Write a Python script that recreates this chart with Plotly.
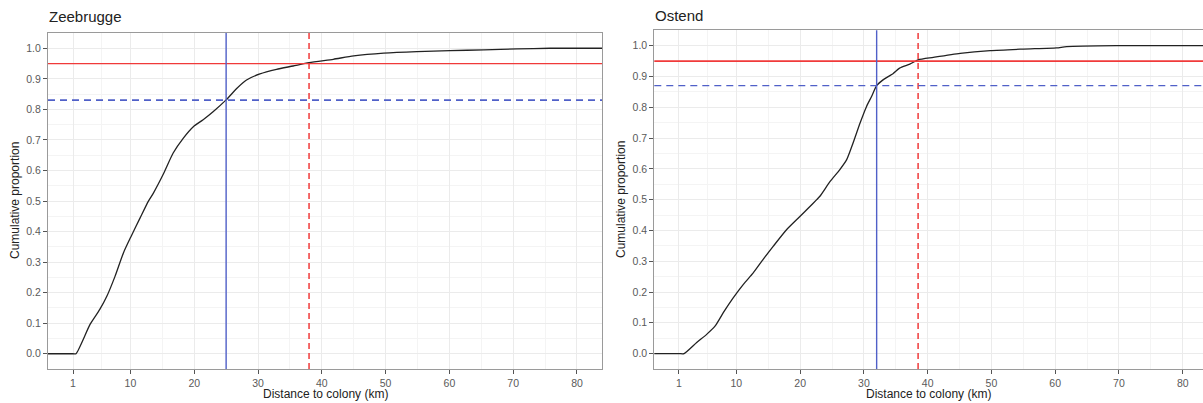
import plotly.graph_objects as go

# ---------------- data ----------------
# Zeebrugge ECDF (padded to -Inf / +Inf like stat_ecdf)
zee_x = [-10, 1.0, 1.47, 3.67, 5.2, 6.3, 7.6, 8.9, 10.1, 11.5, 12.8, 13.6, 15.2, 16.7, 18.3, 19.9,
         21.4, 23.0, 25.0, 26.7, 28.2, 30.3, 32.9, 35.5, 38.0, 41.8, 45.0, 49.7, 54.9, 60.1,
         65.4, 70.6, 75.8, 80.0, 100]
zee_y = [0, 0, 0, 0.096, 0.145, 0.188, 0.254, 0.33, 0.384, 0.444, 0.499, 0.526, 0.59, 0.657, 0.706, 0.744,
         0.766, 0.793, 0.831, 0.869, 0.896, 0.916, 0.931, 0.942, 0.953, 0.964, 0.975, 0.984, 0.989, 0.992,
         0.995, 0.998, 1.0, 1.0, 1.0]

# Ostend ECDF
ost_x = [-10, 1.0, 1.8, 3.78, 5.34, 6.65, 7.95, 9.5, 11.1, 12.65, 14.2, 15.8, 17.9, 20.0, 21.3, 22.6,
         23.1, 24.7, 26.2, 27.3, 28.3, 29.4, 30.4, 31.2, 32.0, 33.0, 34.6, 35.6, 37.2, 38.5, 40.9,
         45.1, 49.8, 55.0, 60.2, 61.8, 69.6, 80.0, 100]
ost_y = [0, 0, 0, 0.036, 0.0625, 0.089, 0.133, 0.181, 0.225, 0.262, 0.306, 0.349, 0.403, 0.446, 0.473, 0.5,
         0.511, 0.559, 0.597, 0.63, 0.684, 0.749, 0.802, 0.835, 0.87, 0.889, 0.91, 0.927, 0.94, 0.954, 0.962,
         0.975, 0.984, 0.989, 0.993, 0.997, 1.0, 1.0, 1.0]

# reference lines: 95% threshold and the marked distances / proportions
threshold = 0.95
zee_red_x = 38.0
zee_blue_x = 25.0
zee_blue_y = 0.83
ost_red_x = 38.5
ost_blue_x = 32.0
ost_blue_y = 0.87

x_ticks = [1, 10, 20, 30, 40, 50, 60, 70, 80]
x_minor = [5.5, 15, 25, 35, 45, 55, 65, 75]
y_ticks = [round(i * 0.1, 1) for i in range(11)]
y_minor = [round(-0.05 + i * 0.1, 2) for i in range(12)]

RED = "#f03a3a"
BLUE = "#5060c8"
FONT = "Liberation Sans, Arial, sans-serif"

fig = go.Figure()
fig.add_trace(go.Scatter(x=zee_x, y=zee_y, mode="lines",
                         line=dict(color="#222222", width=1.3, shape="spline", smoothing=0.6),
                         xaxis="x", yaxis="y", showlegend=False, hoverinfo="skip"))
fig.add_trace(go.Scatter(x=ost_x, y=ost_y, mode="lines",
                         line=dict(color="#222222", width=1.3, shape="spline", smoothing=0.6),
                         xaxis="x2", yaxis="y2", showlegend=False, hoverinfo="skip"))

def ref_lines(xa, ya, red_x, blue_x, blue_y, blue_w, red_w):
    xr = f"{xa} domain"
    yr = f"{ya} domain"
    fig.add_shape(type="line", xref=xr, yref=ya, x0=0, x1=1, y0=threshold, y1=threshold,
                  line=dict(color=RED, width=red_w), layer="above")
    fig.add_shape(type="line", xref=xa, yref=yr, x0=red_x, x1=red_x, y0=0, y1=1,
                  line=dict(color=RED, width=1.5, dash="6px,4px"), layer="above")
    fig.add_shape(type="line", xref=xa, yref=yr, x0=blue_x, x1=blue_x, y0=0, y1=1,
                  line=dict(color=BLUE, width=1.4), layer="above")
    fig.add_shape(type="line", xref=xr, yref=ya, x0=0, x1=1, y0=blue_y, y1=blue_y,
                  line=dict(color=BLUE, width=blue_w, dash="7px,5px"), layer="above")

ref_lines("x", "y", zee_red_x, zee_blue_x, zee_blue_y, 1.7, 1.3)
ref_lines("x2", "y2", ost_red_x, ost_blue_x, ost_blue_y, 1.3, 1.7)

W, H = 1203, 403

def xaxis(dom, rng, anchor):
    return dict(domain=dom, range=rng, anchor=anchor, tickmode="array", tickvals=x_ticks,
                ticks="outside", ticklen=4, tickcolor="#555555", tickwidth=1,
                tickfont=dict(size=10.5, color="#5a5a5a", family=FONT),
                showgrid=True, gridcolor="#EBEBEB", gridwidth=1,
                minor=dict(tickvals=x_minor, showgrid=True, gridcolor="#F4F4F4", gridwidth=1, ticks=""),
                showline=True, linecolor="#9a9a9a", linewidth=1, mirror=True, zeroline=False,
                automargin=False)

def yaxis(dom, anchor, mirror):
    return dict(domain=dom, range=[-0.05, 1.05], anchor=anchor, tickmode="array", tickvals=y_ticks,
                tickformat=".1f", ticks="outside", ticklen=4, tickcolor="#555555", tickwidth=1,
                tickfont=dict(size=10.5, color="#5a5a5a", family=FONT),
                showgrid=True, gridcolor="#EBEBEB", gridwidth=1,
                minor=dict(tickvals=y_minor, showgrid=True, gridcolor="#F4F4F4", gridwidth=1, ticks=""),
                showline=True, linecolor="#9a9a9a", linewidth=1, mirror=mirror, zeroline=False,
                automargin=False)

def txt(text, x, y, size=12, angle=0, xanchor="center", yanchor="middle"):
    return dict(text=text, x=x / W, y=1 - y / H, xref="paper", yref="paper",
                xanchor=xanchor, yanchor=yanchor, showarrow=False, textangle=angle,
                font=dict(size=size, color="#222222", family=FONT))

fig.update_layout(
    width=W, height=H,
    margin=dict(l=0, r=0, t=0, b=0),
    paper_bgcolor="white", plot_bgcolor="white",
    xaxis=xaxis([48 / W, 602 / W], [-2.92, 83.92], "y"),
    yaxis=yaxis([1 - 369 / H, 1 - 33 / H], "x", True),
    xaxis2=xaxis([654.3 / W, 1.0], [-2.87, 83.18], "y2"),
    yaxis2=yaxis([1 - 369 / H, 1 - 30.3 / H], "x2", "allticks"),
    font=dict(family=FONT),
    annotations=[
        txt("Zeebrugge", 47, 17, size=15, xanchor="left"),
        txt("Ostend", 653, 15, size=15, xanchor="left"),
        txt("Distance to colony (km)", 325, 394),
        txt("Distance to colony (km)", 928, 394),
        txt("Cumulative proportion", 15, 201, angle=-90),
        txt("Cumulative proportion", 621, 200, angle=-90),
    ],
)

fig.write_html("out.html", config={"displayModeBar": False},
               post_script="document.body.style.margin='0';document.body.style.overflow='hidden';")
